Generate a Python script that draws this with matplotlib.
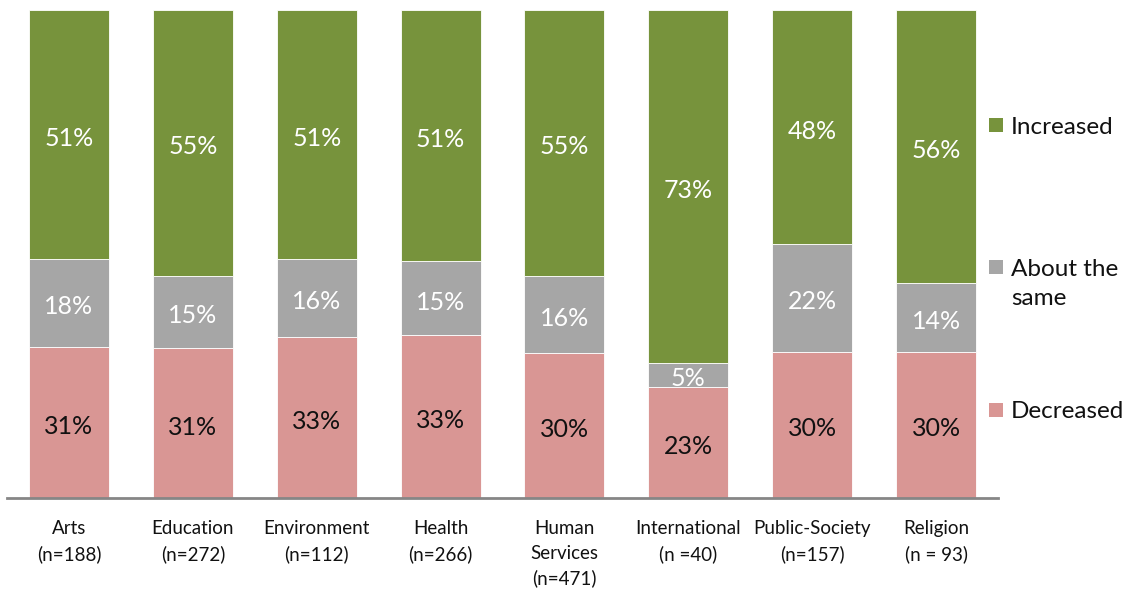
import matplotlib
matplotlib.use("Agg")
import matplotlib.pyplot as plt
import numpy as np
from matplotlib.patches import Rectangle

plt.rcParams['font.family'] = ['Lato', 'DejaVu Sans']

categories = ["Arts\n(n=188)", "Education\n(n=272)", "Environment\n(n=112)", "Health\n(n=266)",
              "Human\nServices\n(n=471)", "International\n(n =40)", "Public-Society\n(n=157)",
              "Religion\n(n = 93)"]
decreased = [31, 31, 33, 33, 30, 23, 30, 30]
same = [18, 15, 16, 15, 16, 5, 22, 14]
increased = [51, 55, 51, 51, 55, 73, 48, 56]

series_names = ["Decreased", "About the\nsame", "Increased"]
colors = ["#D99694", "#A6A6A6", "#77933C"]
label_colors = ["#111111", "white", "white"]

W, H = 1128, 592
fig = plt.figure(figsize=(W / 100, H / 100), dpi=100)
ax = fig.add_axes([7 / W, 1 - 498 / H, (998 - 7) / W, (498 - 10) / H])

data = np.array([decreased, same, increased], dtype=float)
totals = data.sum(axis=0)
norm = data / totals * 100
x = np.arange(len(categories))
bottom = np.zeros(len(categories))
for i in range(3):
    ax.bar(x, norm[i], 0.645, bottom=bottom, color=colors[i], edgecolor="white",
           linewidth=0.6, zorder=2)
    for j in range(len(categories)):
        ax.text(x[j], bottom[j] + norm[i][j] / 2 - 0.8, f"{int(data[i][j])}%",
                ha="center", va="center", fontsize=18, color=label_colors[i], zorder=3)
    bottom += norm[i]

ax.set_xlim(-0.5, len(categories) - 0.5)
ax.set_ylim(0, 100)
ax.set_xticks(x)
ax.set_xticklabels(categories, fontsize=13.5, color="#111111", linespacing=1.53)
ax.tick_params(axis="x", length=0, pad=16)
ax.set_yticks([])
for s in ["top", "right", "left"]:
    ax.spines[s].set_visible(False)
ax.spines["bottom"].set_color("#868686")
ax.spines["bottom"].set_linewidth(2)
ax.spines["bottom"].set_zorder(4)

# legend: square marker aligned with first text line, as in the reference
legend_first_line_y = {"Increased": 125, "About the\nsame": 267, "Decreased": 410}
for name, col in zip(series_names, colors):
    yc = legend_first_line_y[name]
    fig.add_artist(Rectangle((989 / W, 1 - (yc + 7) / H), 14 / W, 14 / H,
                             transform=fig.transFigure, facecolor=col, edgecolor="none"))
    fig.text(1011 / W, 1 - (yc - 8.5) / H, name, ha="left", va="top", fontsize=17.5,
             color="#111111", linespacing=1.52)

fig.savefig("out.png", dpi=100)
